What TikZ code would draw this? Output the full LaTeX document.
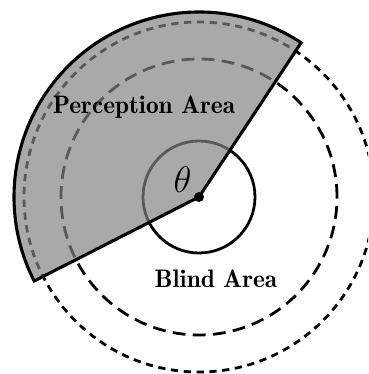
\documentclass[tikz,border=0pt]{standalone}
\begin{document}
\begin{tikzpicture}[x=0.467pt,y=0.467pt,
  ring/.style={line width=1.3pt},
  outerring/.style={ring, dash pattern=on 3.4pt off 2.6pt},
  midring/.style={ring, dash pattern=on 6pt off 3.4pt},
  sectorfill/.style={fill=black!49, fill opacity=0.69},
  sectorline/.style={line width=1.45pt, line join=miter},
  label/.style={font=\fontsize{11.8}{14}\fontseries{b}\selectfont, anchor=base, inner sep=0pt}]
\useasboundingbox (-199,-177) rectangle (169,197);
\clip (-199,-177) rectangle (169,197);
\coordinate (O) at (0,0);
\draw[outerring] (O) circle[radius=175];
\draw[midring] (O) circle[radius=138];
\draw[ring] (O) circle[radius=56];
\coordinate (A) at (56.5:185);
\coordinate (B) at (207:185);
\fill[sectorfill] (O) -- (A) arc[start angle=56.5, end angle=207, radius=185] -- cycle;
\draw[sectorline] (O) -- (A) arc[start angle=56.5, end angle=207, radius=185] -- (B) -- cycle;
\fill (O) circle[radius=5];
\node[label] (pa) at (-55,83) {Perception Area};
\node[label] (ba) at (17,-91) {Blind Area};
\node[font=\fontsize{17}{20}\selectfont, inner sep=0pt] (th) at (-16.5,17) {$\theta$};
\end{tikzpicture}
\end{document}
